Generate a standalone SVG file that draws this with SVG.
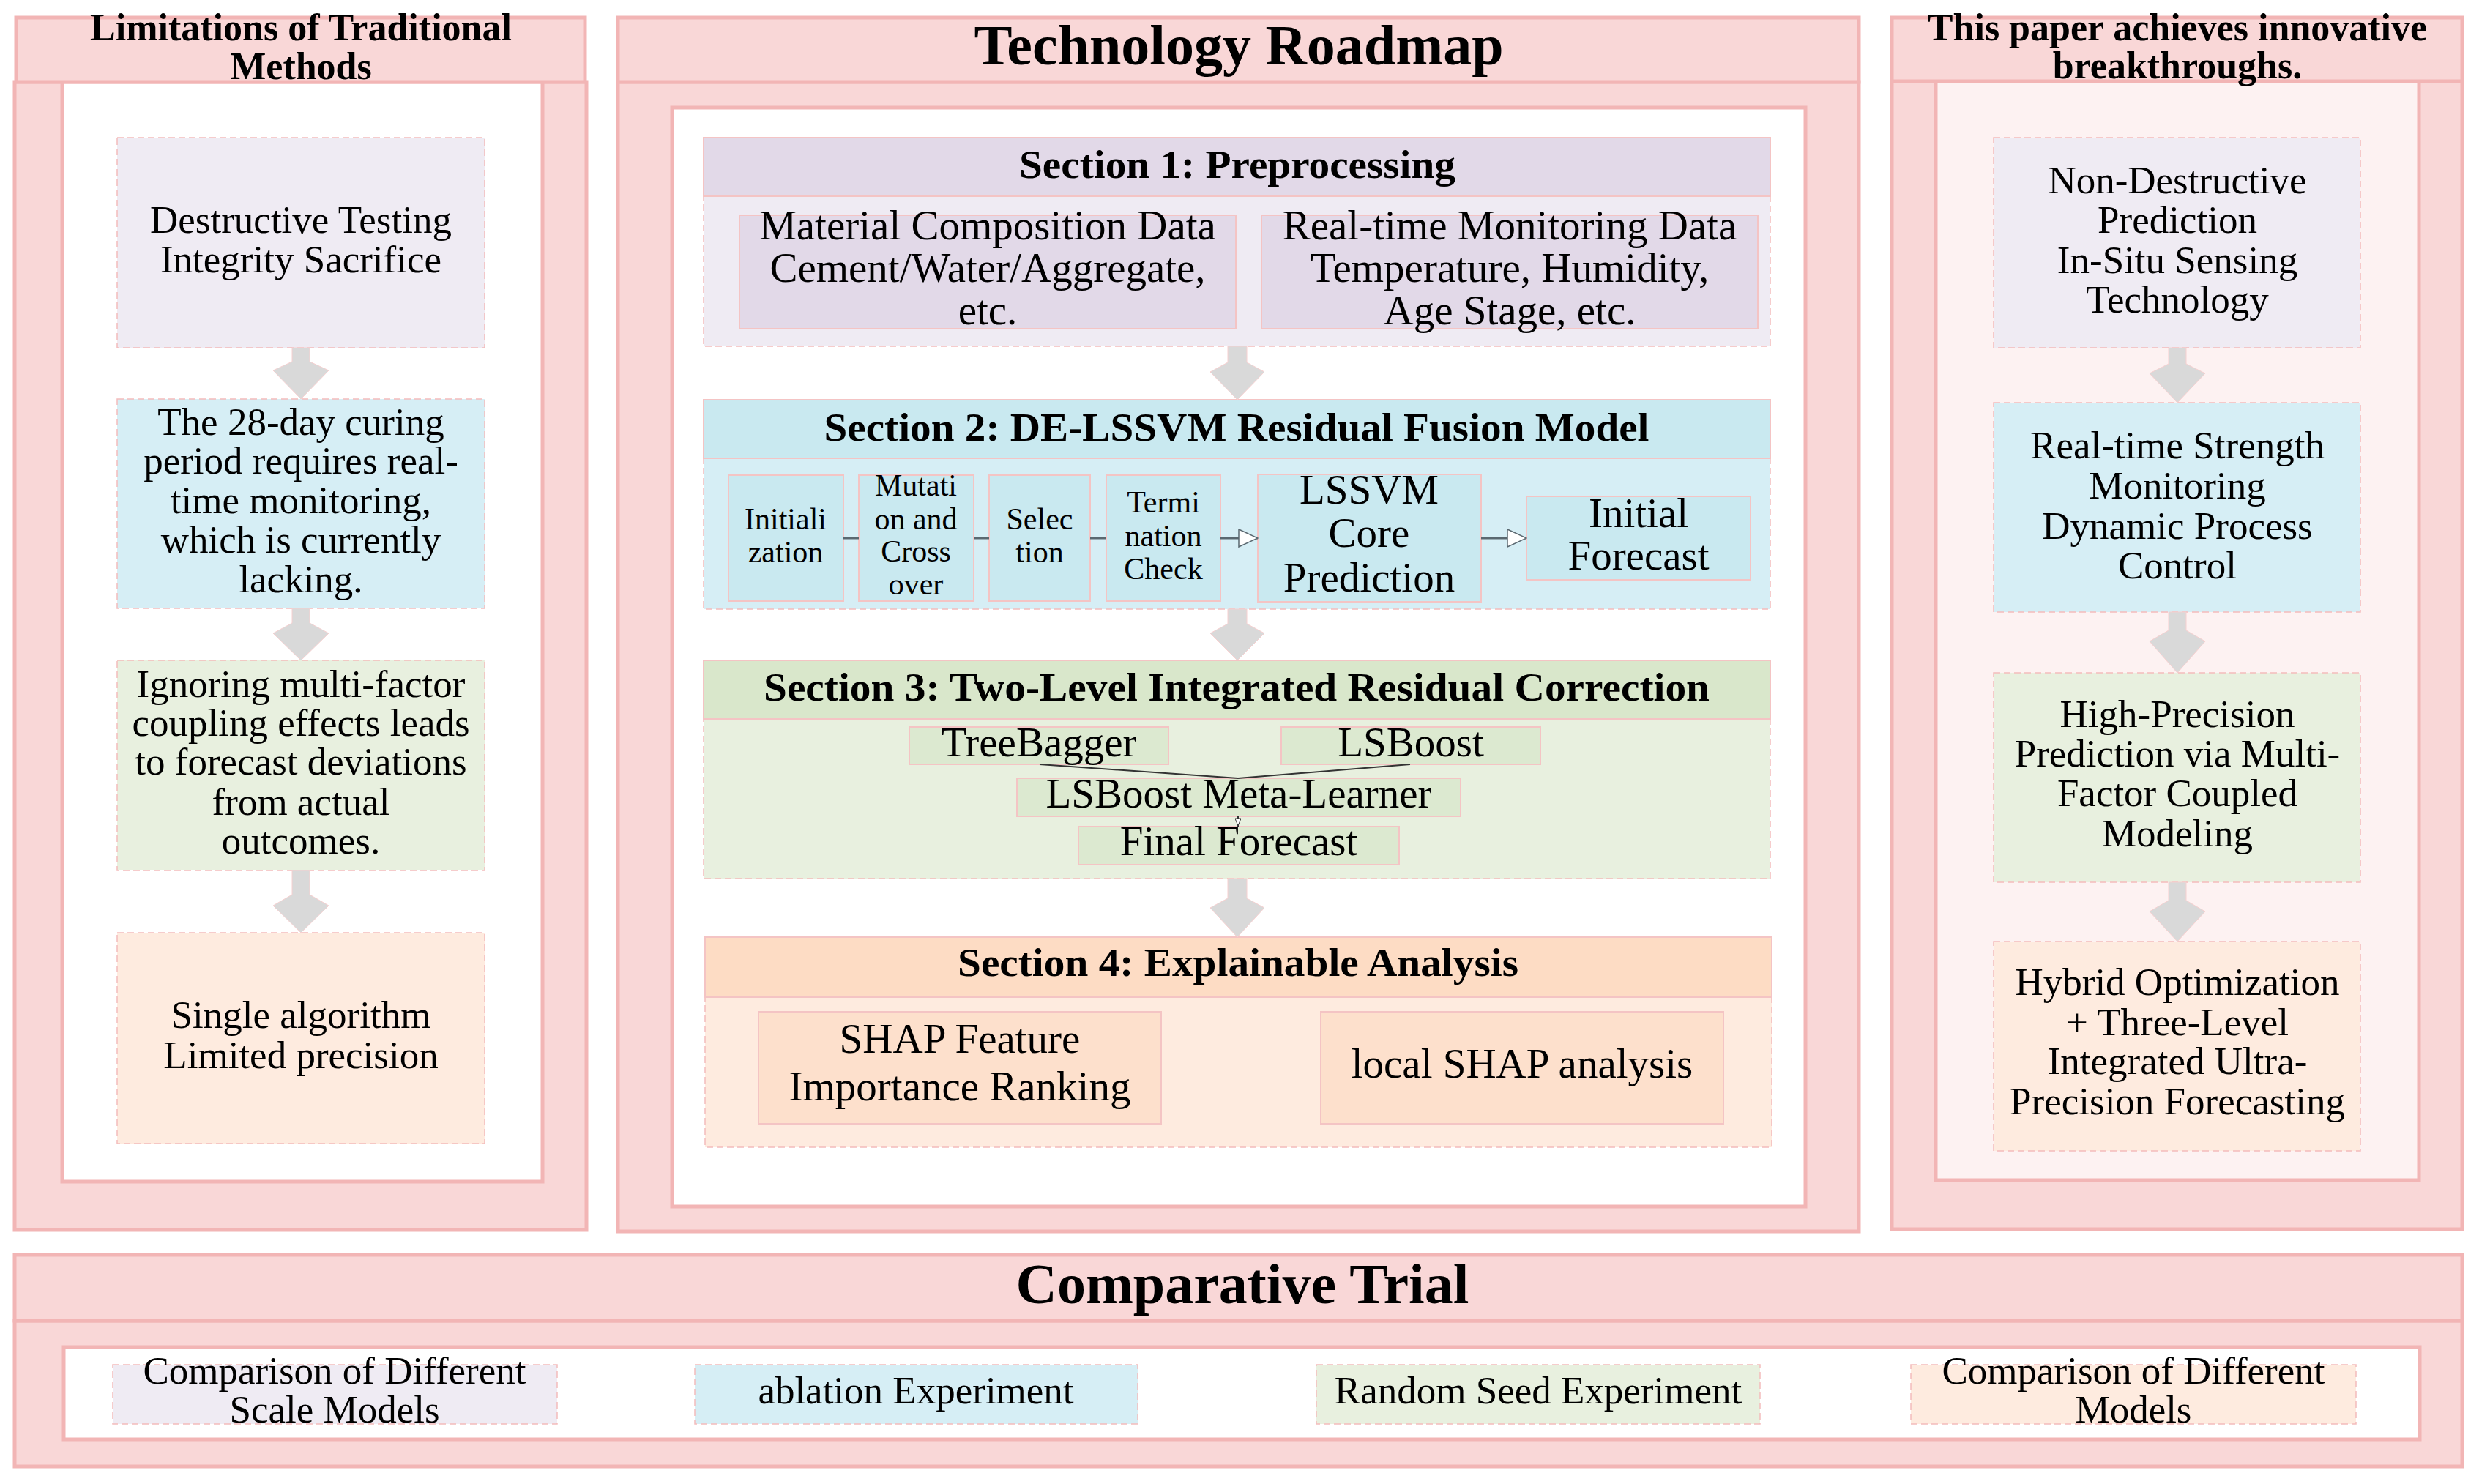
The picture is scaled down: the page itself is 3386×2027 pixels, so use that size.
<svg xmlns="http://www.w3.org/2000/svg" width="3386" height="2027" viewBox="0 0 3386 2027">
<defs>
<style>
.pan{fill:#f9d7d7;stroke:#f2b5b5;stroke-width:5}
.inw{fill:#ffffff;stroke:#f2b5b5;stroke-width:5}
.inp{fill:#fdf2f2;stroke:#f2b5b5;stroke-width:5}
.dash{stroke:#f4bcbc;stroke-width:1.5;stroke-dasharray:9 5}
.sol{stroke:#f4c4c4;stroke-width:2}
.lavb{fill:#efebf3}.lavh{fill:#e2d9e8}
.blub{fill:#d6eef5}.bluh{fill:#c9e9f0}
.greb{fill:#e8f0df}.greh{fill:#d9e7cb}.gres{fill:#dce9d0}
.orab{fill:#feebdf}.orah{fill:#fddcc4}.oras{fill:#fde0cc}
.t{font-family:"Liberation Serif","Times New Roman",serif;fill:#000;text-anchor:middle}
.b53{font-size:53px}
.b57{font-size:57px}
.b42{font-size:42px}
.h52{font-size:52px;font-weight:bold}
.h78{font-size:78px;font-weight:bold}
.h55{font-size:55px;font-weight:bold}
.garr{fill:#d9d9d9;stroke:#f6d0d0;stroke-width:1}
.ln{stroke:#5a6870;stroke-width:3;fill:none}
.thin{stroke:#333;stroke-width:2;fill:none}
</style>
<marker id="oa" viewBox="0 0 28 26" refX="27" refY="13" markerWidth="28" markerHeight="26" markerUnits="userSpaceOnUse" orient="auto">
<path d="M1,1 L27,13 L1,25 Z" fill="#ffffff" stroke="#5a6870" stroke-width="1.5"/>
</marker>
<marker id="sa" viewBox="0 0 10 12" refX="5" refY="12" markerWidth="10" markerHeight="12" markerUnits="userSpaceOnUse" orient="0">
<path d="M1,1 L9,1 L5,11 Z" fill="#ffffff" stroke="#333" stroke-width="1"/>
</marker>
</defs>

<!-- LEFT COLUMN -->
<g id="left-panel">
<rect class="pan" x="20" y="112" width="781" height="1568"/>
<rect class="inw" x="85" y="112" width="656" height="1502"/>
<rect class="pan" x="22" y="24" width="777" height="88"/>
<text class="t h52" x="411" y="55">Limitations of Traditional</text>
<text class="t h52" x="411" y="108">Methods</text>
</g>
<g id="left-box1">
<rect class="lavb dash" x="160" y="188" width="502" height="287"/>
<text class="t b53" x="411" y="318">Destructive Testing</text>
<text class="t b53" x="411" y="372">Integrity Sacrifice</text>
</g>
<g id="left-box2">
<rect class="blub dash" x="160" y="545" width="502" height="286"/>
<text class="t b53" x="411" y="594">The 28-day curing</text>
<text class="t b53" x="411" y="647">period requires real-</text>
<text class="t b53" x="411" y="701">time monitoring,</text>
<text class="t b53" x="411" y="755">which is currently</text>
<text class="t b53" x="411" y="809">lacking.</text>
</g>
<g id="left-box3">
<rect class="greb dash" x="160" y="902" width="502" height="287"/>
<text class="t b53" x="411" y="952">Ignoring multi-factor</text>
<text class="t b53" x="411" y="1005">coupling effects leads</text>
<text class="t b53" x="411" y="1058">to forecast deviations</text>
<text class="t b53" x="411" y="1113">from actual</text>
<text class="t b53" x="411" y="1166">outcomes.</text>
</g>
<g id="left-box4">
<rect class="orab dash" x="160" y="1274" width="502" height="288"/>
<text class="t b53" x="411" y="1404">Single algorithm</text>
<text class="t b53" x="411" y="1459">Limited precision</text>
</g>

<!-- MIDDLE COLUMN -->
<g id="mid-panel">
<rect class="pan" x="844" y="112" width="1695" height="1570"/>
<rect class="inw" x="918" y="147" width="1548" height="1501"/>
<rect class="pan" x="844" y="24" width="1695" height="88"/>
<text class="t h78" x="1692" y="88">Technology Roadmap</text>
</g>
<g id="section1">
<rect class="lavb dash" x="961" y="268" width="1457" height="205"/>
<rect class="lavh sol" x="961" y="188" width="1457" height="80"/>
<text class="t h55" x="1690" y="243" textLength="596" lengthAdjust="spacingAndGlyphs">Section 1: Preprocessing</text>
</g>
<g id="s1-material">
<rect class="lavh sol" x="1010" y="294" width="678" height="155"/>
<text class="t b57" x="1349" y="327">Material Composition Data</text>
<text class="t b57" x="1349" y="385">Cement/Water/Aggregate,</text>
<text class="t b57" x="1349" y="443">etc.</text>
</g>
<g id="s1-monitoring">
<rect class="lavh sol" x="1723" y="294" width="678" height="155"/>
<text class="t b57" x="2062" y="327">Real-time Monitoring Data</text>
<text class="t b57" x="2062" y="385">Temperature, Humidity,</text>
<text class="t b57" x="2062" y="443">Age Stage, etc.</text>
</g>
<g id="section2">
<rect class="blub dash" x="961" y="626" width="1457" height="206"/>
<rect class="bluh sol" x="961" y="546" width="1457" height="80"/>
<text class="t h55" x="1689" y="602" textLength="1127" lengthAdjust="spacingAndGlyphs">Section 2: DE-LSSVM Residual Fusion Model</text>
</g>
<g id="s2-init">
<rect class="bluh sol" x="995" y="649" width="157" height="172"/>
<text class="t b42" x="1073" y="723">Initiali</text>
<text class="t b42" x="1073" y="768">zation</text>
</g>
<g id="s2-mutation">
<rect class="bluh sol" x="1173" y="649" width="157" height="172"/>
<text class="t b42" x="1251" y="677">Mutati</text>
<text class="t b42" x="1251" y="723">on and</text>
<text class="t b42" x="1251" y="767">Cross</text>
<text class="t b42" x="1251" y="812">over</text>
</g>
<g id="s2-selection">
<rect class="bluh sol" x="1351" y="649" width="138" height="172"/>
<text class="t b42" x="1420" y="723">Selec</text>
<text class="t b42" x="1420" y="768">tion</text>
</g>
<g id="s2-termination">
<rect class="bluh sol" x="1511" y="649" width="156" height="172"/>
<text class="t b42" x="1589" y="700">Termi</text>
<text class="t b42" x="1589" y="746">nation</text>
<text class="t b42" x="1589" y="791">Check</text>
</g>
<g id="s2-lssvm">
<rect class="bluh sol" x="1718" y="648" width="305" height="174"/>
<text class="t b57" x="1870" y="688">LSSVM</text>
<text class="t b57" x="1870" y="747">Core</text>
<text class="t b57" x="1870" y="808">Prediction</text>
</g>
<g id="s2-initial">
<rect class="bluh sol" x="2085" y="678" width="306" height="114"/>
<text class="t b57" x="2238" y="720">Initial</text>
<text class="t b57" x="2238" y="778">Forecast</text>
</g>
<g id="section3">
<rect class="greb dash" x="961" y="982" width="1457" height="218"/>
<rect class="greh sol" x="961" y="902" width="1457" height="80"/>
<text class="t h55" x="1689" y="957" textLength="1292" lengthAdjust="spacingAndGlyphs">Section 3: Two-Level Integrated Residual Correction</text>
</g>
<g id="s3-treebagger">
<rect class="gres sol" x="1242" y="993" width="354" height="51"/>
<text class="t b57" x="1419" y="1033">TreeBagger</text>
</g>
<g id="s3-lsboost">
<rect class="gres sol" x="1750" y="993" width="354" height="51"/>
<text class="t b57" x="1927" y="1033">LSBoost</text>
</g>
<g id="s3-meta">
<rect class="gres sol" x="1389" y="1063" width="606" height="52"/>
<text class="t b57" x="1692" y="1103">LSBoost Meta-Learner</text>
</g>
<g id="s3-final">
<rect class="gres sol" x="1473" y="1129" width="438" height="52"/>
<text class="t b57" x="1692" y="1168">Final Forecast</text>
</g>
<g id="section4">
<rect class="orab dash" x="963" y="1362" width="1457" height="205"/>
<rect class="orah sol" x="963" y="1280" width="1457" height="82"/>
<text class="t h55" x="1691" y="1333" textLength="766" lengthAdjust="spacingAndGlyphs">Section 4: Explainable Analysis</text>
</g>
<g id="s4-shap">
<rect class="oras sol" x="1036" y="1382" width="550" height="153"/>
<text class="t b57" x="1311" y="1438">SHAP Feature</text>
<text class="t b57" x="1311" y="1503">Importance Ranking</text>
</g>
<g id="s4-local">
<rect class="oras sol" x="1804" y="1382" width="550" height="153"/>
<text class="t b57" x="2079" y="1472">local SHAP analysis</text>
</g>

<!-- RIGHT COLUMN -->
<g id="right-panel">
<rect class="pan" x="2584" y="111" width="779" height="1568"/>
<rect class="inp" x="2644" y="111" width="660" height="1501"/>
<rect class="pan" x="2584" y="24" width="779" height="87"/>
<text class="t h52" x="2974" y="55">This paper achieves innovative</text>
<text class="t h52" x="2974" y="107">breakthroughs.</text>
</g>
<g id="right-box1">
<rect class="lavb dash" x="2723" y="188" width="501" height="287"/>
<text class="t b53" x="2974" y="264">Non-Destructive</text>
<text class="t b53" x="2974" y="318">Prediction</text>
<text class="t b53" x="2974" y="373">In-Situ Sensing</text>
<text class="t b53" x="2974" y="427">Technology</text>
</g>
<g id="right-box2">
<rect class="blub dash" x="2723" y="550" width="501" height="286"/>
<text class="t b53" x="2974" y="626">Real-time Strength</text>
<text class="t b53" x="2974" y="681">Monitoring</text>
<text class="t b53" x="2974" y="736">Dynamic Process</text>
<text class="t b53" x="2974" y="790">Control</text>
</g>
<g id="right-box3">
<rect class="greb dash" x="2723" y="919" width="501" height="286"/>
<text class="t b53" x="2974" y="993">High-Precision</text>
<text class="t b53" x="2974" y="1047">Prediction via Multi-</text>
<text class="t b53" x="2974" y="1101">Factor Coupled</text>
<text class="t b53" x="2974" y="1156">Modeling</text>
</g>
<g id="right-box4">
<rect class="orab dash" x="2723" y="1286" width="501" height="286"/>
<text class="t b53" x="2974" y="1359">Hybrid Optimization</text>
<text class="t b53" x="2974" y="1414">+ Three-Level</text>
<text class="t b53" x="2974" y="1467">Integrated Ultra-</text>
<text class="t b53" x="2974" y="1522">Precision Forecasting</text>
</g>

<!-- BOTTOM -->
<g id="bottom-panel">
<rect class="pan" x="20" y="1804" width="3343" height="199"/>
<rect class="inw" x="87" y="1840" width="3218" height="126"/>
<rect class="pan" x="20" y="1714" width="3343" height="90"/>
<text class="t h78" x="1697" y="1780">Comparative Trial</text>
</g>
<g id="trial-scale">
<rect class="lavb dash" x="154" y="1864" width="607" height="81"/>
<text class="t b53" x="457" y="1890">Comparison of Different</text>
<text class="t b53" x="457" y="1943">Scale Models</text>
</g>
<g id="trial-ablation">
<rect class="blub dash" x="949" y="1864" width="605" height="81"/>
<text class="t b53" x="1251" y="1917">ablation Experiment</text>
</g>
<g id="trial-seed">
<rect class="greb dash" x="1798" y="1864" width="606" height="81"/>
<text class="t b53" x="2101" y="1917">Random Seed Experiment</text>
</g>
<g id="trial-models">
<rect class="orab dash" x="2610" y="1864" width="608" height="81"/>
<text class="t b53" x="2914" y="1890">Comparison of Different</text>
<text class="t b53" x="2914" y="1943">Models</text>
</g>

<!-- CONNECTORS -->
<g id="connectors">
<path class="garr" d="M399,475 L423,475 L423,494 L449,506 L411,545 L373,506 L399,494 Z"/>
<path class="garr" d="M399,831 L423,831 L423,851 L449,865 L411,902 L373,865 L399,851 Z"/>
<path class="garr" d="M399,1189 L423,1189 L423,1222 L449,1237 L411,1274 L373,1237 L399,1222 Z"/>
<path class="garr" d="M1677,473 L1703,473 L1703,495 L1727,508 L1690,546 L1653,508 L1677,495 Z"/>
<path class="garr" d="M1677,832 L1703,832 L1703,852 L1727,865 L1690,902 L1653,865 L1677,852 Z"/>
<path class="garr" d="M1677,1200 L1703,1200 L1703,1227 L1727,1240 L1690,1280 L1653,1240 L1677,1227 Z"/>
<path class="garr" d="M2962,475 L2986,475 L2986,497 L3012,510 L2974,550 L2936,510 L2962,497 Z"/>
<path class="garr" d="M2962,836 L2986,836 L2986,861 L3012,876 L2974,919 L2936,876 L2962,861 Z"/>
<path class="garr" d="M2962,1205 L2986,1205 L2986,1230 L3012,1245 L2974,1286 L2936,1245 L2962,1230 Z"/>
<line class="ln" x1="1152" y1="735" x2="1173" y2="735"/>
<line class="ln" x1="1330" y1="735" x2="1351" y2="735"/>
<line class="ln" x1="1489" y1="735" x2="1511" y2="735"/>
<line class="ln" x1="1667" y1="735" x2="1718" y2="735" marker-end="url(#oa)"/>
<line class="ln" x1="2023" y1="735" x2="2085" y2="735" marker-end="url(#oa)"/>
<polyline class="thin" points="1420,1044 1691,1063 1926,1044"/>
<line class="thin" x1="1691" y1="1115" x2="1691" y2="1129" stroke-width="1.2" marker-end="url(#sa)"/>
</g>
</svg>
